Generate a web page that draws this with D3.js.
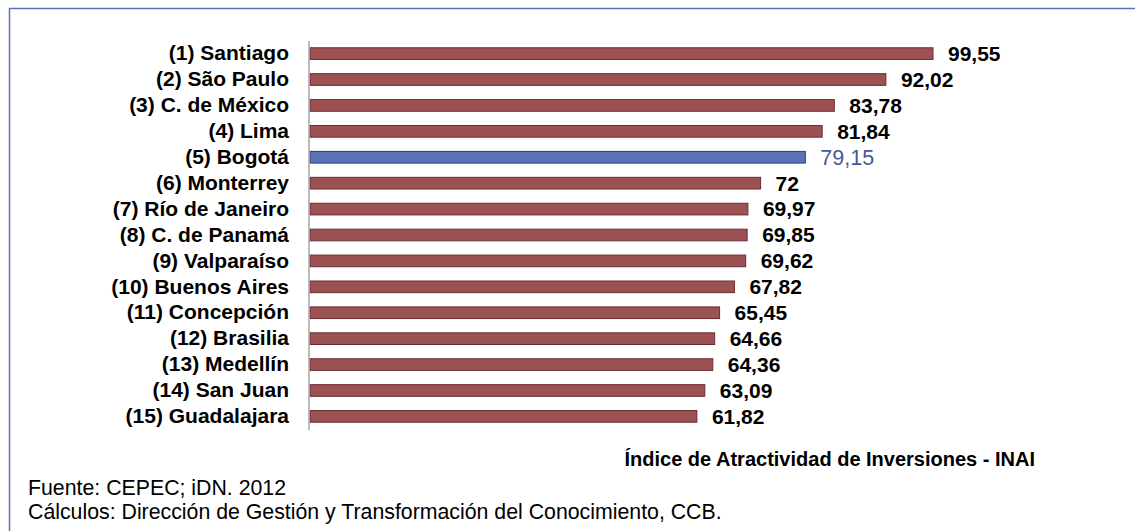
<!DOCTYPE html>
<html>
<head>
<meta charset="utf-8">
<script src="https://cdn.jsdelivr.net/npm/d3@7"></script>
<style>
body { margin: 0; background: #fff; }
svg { display: block; }
text { font-family: "Liberation Sans", Arial, sans-serif; }
</style>
</head>
<body>
<div class="mainviz"></div>
<script>
var cities = ["(1) Santiago", "(2) São Paulo", "(3) C. de México", "(4) Lima", "(5) Bogotá",
	"(6) Monterrey", "(7) Río de Janeiro", "(8) C. de Panamá", "(9) Valparaíso", "(10) Buenos Aires",
	"(11) Concepción", "(12) Brasilia", "(13) Medellín", "(14) San Juan", "(15) Guadalajara"];
var values = [99.55, 92.02, 83.78, 81.84, 79.15, 72, 69.97, 69.85, 69.62, 67.82, 65.45, 64.66, 64.36, 63.09, 61.82];
var highlight = "(5) Bogotá";
var axisTitle = "Índice de Atractividad de Inversiones - INAI";
var notes = ["Fuente: CEPEC; iDN. 2012", "Cálculos: Dirección de Gestión y Transformación del Conocimiento, CCB."];

var width = 1135, height = 531;
var margin = { top: 40, right: 200, bottom: 101, left: 310 };

var svg = d3.select(".mainviz").append("svg")
	.attr("width", width)
	.attr("height", height);

// frame (top and left edge only are visible)
svg.append("line").attr("x1", 9).attr("x2", width).attr("y1", 8.5).attr("y2", 8.5)
	.attr("stroke", "#5b72b8").attr("stroke-width", 1.5);
svg.append("line").attr("x1", 9.5).attr("x2", 9.5).attr("y1", 8).attr("y2", height)
	.attr("stroke", "#5b72b8").attr("stroke-width", 1.5);

var data = cities.map(function(c, i){ return { city: c, value: values[i] }; });

var x = d3.scaleLinear()
	.domain([0, 99.55])
	.range([margin.left, 933]);

var y = d3.scaleBand()
	.domain(cities)
	.range([margin.top, height - margin.bottom])
	.paddingInner(0.55)
	.paddingOuter(0.3);

svg.selectAll("rect.bar")
	.data(data)
	.enter().append("rect")
	.attr("class", "bar")
	.attr("x", x(0))
	.attr("y", function(d){ return y(d.city); })
	.attr("width", function(d){ return x(d.value) - x(0); })
	.attr("height", y.bandwidth())
	.attr("fill", function(d){ return d.city == highlight ? "#5a73b6" : "#9c5253"; })
	.attr("stroke", function(d){ return d.city == highlight ? "#2f3f70" : "#6a2d30"; })
	.attr("stroke-width", 1);

// category axis
var yAxis = d3.axisLeft(y).tickSize(0).tickPadding(20);
var gy = svg.append("g")
	.attr("transform", "translate(" + (x(0) - 1) + ",0)")
	.call(yAxis);
gy.select(".domain").attr("stroke", "#a6a6a6").attr("stroke-width", 1.5)
	.attr("d", "M0," + (margin.top + 1) + "V" + (height - margin.bottom));
gy.selectAll("text")
	.attr("font-family", "Liberation Sans, Arial, sans-serif")
	.attr("font-size", 21)
	.attr("font-weight", "bold")
	.attr("fill", "#000");

// value labels
svg.selectAll("text.val")
	.data(data)
	.enter().append("text")
	.attr("class", "val")
	.attr("x", function(d){ return x(d.value) + 15; })
	.attr("y", function(d){ return y(d.city) + y.bandwidth() / 2; })
	.attr("dy", "0.35em")
	.attr("font-size", function(d){ return d.city == highlight ? 21.5 : 21; })
	.attr("font-weight", function(d){ return d.city == highlight ? "normal" : "bold"; })
	.attr("fill", function(d){ return d.city == highlight ? "#44599a" : "#000"; })
	.text(function(d){ return String(d.value).replace(".", ","); });

svg.append("text")
	.attr("x", 1035)
	.attr("y", 466)
	.attr("text-anchor", "end")
	.attr("font-size", 20)
	.attr("font-weight", "bold")
	.text(axisTitle);

svg.selectAll("text.note")
	.data(notes)
	.enter().append("text")
	.attr("class", "note")
	.attr("x", 28)
	.attr("y", function(d, i){ return 495 + i * 24; })
	.attr("font-size", 21.3)
	.attr("fill", "#000")
	.text(function(d){ return d; });
</script>
</body>
</html>
